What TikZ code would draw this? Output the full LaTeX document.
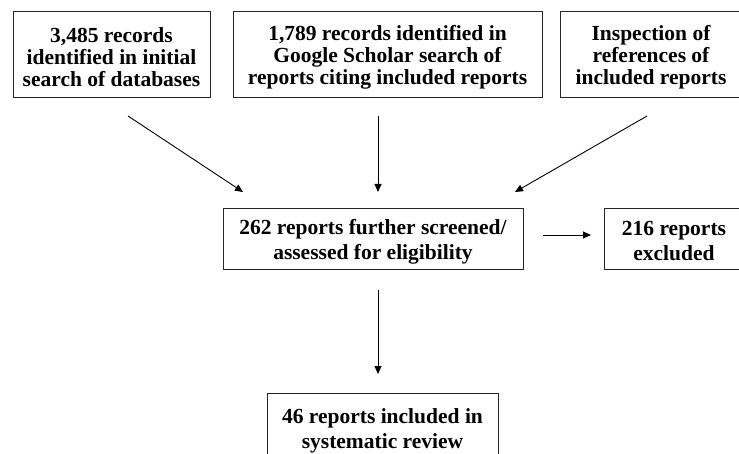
\documentclass[tikz,border=0pt]{standalone}
\usepackage{fontspec}
\setmainfont{Liberation Serif}
\usetikzlibrary{arrows.meta}
\begin{document}
\begin{tikzpicture}[x=1pt,y=-1pt,
  box/.style={draw=black!85,line width=0.9pt,inner sep=0pt},
  txt/.style={align=center,inner sep=0pt,font=\bfseries\fontsize{21.5}{22}\selectfont},
  txtb/.style={align=center,inner sep=0pt,font=\bfseries\fontsize{21.5}{25}\selectfont},
  arr/.style={line width=0.9pt,-{Triangle[length=8pt,width=7pt]}}]
\useasboundingbox (0,0) rectangle (739,454);
\clip (0,0) rectangle (739,454);
\node[box,minimum width=197pt,minimum height=86pt] (db) at (111.5,54) {};
\node[txt] (dbt) at (111.5,57) {3,485 records\\identified in initial\\search of databases};
\node[box,minimum width=309pt,minimum height=86pt] (gs) at (387.5,54) {};
\node[txt] (gst) at (387.5,57) {1,789 records identified in\\Google Scholar search of\\reports citing included reports};
\node[box,minimum width=182pt,minimum height=86pt] (ins) at (651,54) {};
\node[txt] (inst) at (651,57) {Inspection of\\references of\\included reports};
\node[box,minimum width=300pt,minimum height=61pt] (scr) at (373,238.5) {};
\node[txtb] (scrt) at (373,241.5) {262 reports further screened/\\assessed for eligibility};
\node[box,minimum width=140pt,minimum height=61pt] (exc) at (674,238.5) {};
\node[txtb] (exct) at (674,241.5) {216 reports\\excluded};
\node[box,minimum width=231pt,minimum height=76pt] (inc) at (382.5,431) {};
\node[txtb] (inct) at (382.5,431) {46 reports included in\\systematic review};
\coordinate (a1s) at (128,116); \coordinate (a1e) at (243,192);
\coordinate (a2s) at (378,116); \coordinate (a2e) at (378,192);
\coordinate (a3s) at (647,116); \coordinate (a3e) at (515,192);
\coordinate (a4s) at (543,235); \coordinate (a4e) at (591,235);
\coordinate (a5s) at (378,290); \coordinate (a5e) at (378,374);
\draw[arr] (a1s) -- (a1e);
\draw[arr] (a2s) -- (a2e);
\draw[arr] (a3s) -- (a3e);
\draw[arr] (a4s) -- (a4e);
\draw[arr] (a5s) -- (a5e);
\end{tikzpicture}
\end{document}
